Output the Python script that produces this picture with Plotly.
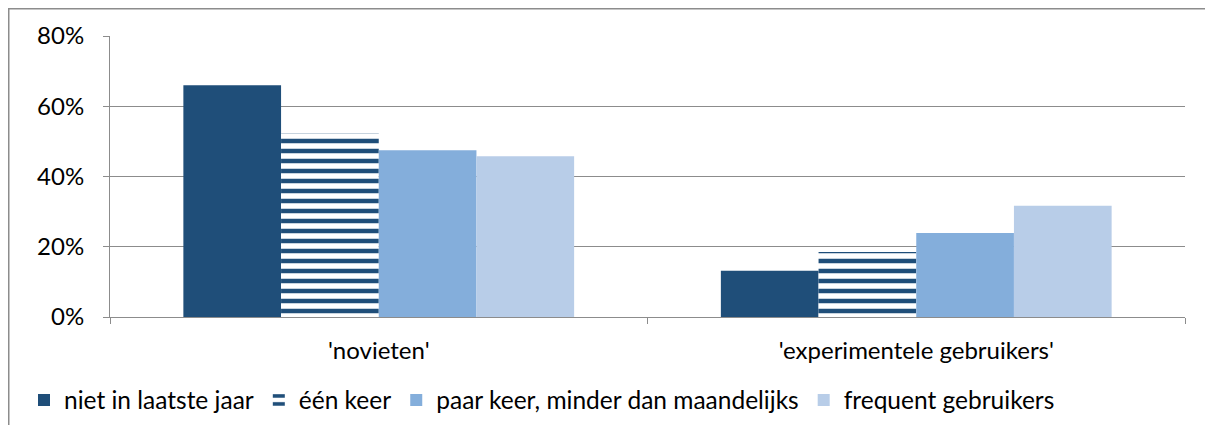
import plotly.graph_objects as go

categories = ["'novieten'", "'experimentele gebruikers'"]
series_names = ["niet in laatste jaar", "één keer", "paar keer, minder dan maandelijks", "frequent gebruikers"]
niet_laatste_jaar = [0.660, 0.132]
een_keer = [0.524, 0.185]
paar_keer = [0.475, 0.239]
frequent = [0.458, 0.317]
y_ticks = [0, 0.2, 0.4, 0.6, 0.8]
y_tick_labels = ["0%", "20%", "40%", "60%", "80%"]

dark = "#1F4E79"
mid = "#84AEDB"
light = "#B8CDE8"
grey = "#8C8C8C"
font = "Lato"

fig = go.Figure()

fig.add_trace(go.Bar(x=categories, y=niet_laatste_jaar, name=series_names[0],
                     marker=dict(color=dark, line=dict(width=0))))
fig.add_trace(go.Bar(x=categories, y=een_keer, name=series_names[1],
                     marker=dict(color="white", line=dict(width=0),
                                 pattern=dict(shape="-", fgcolor=dark, bgcolor="white",
                                              fillmode="replace", size=10, solidity=0.45))))
fig.add_trace(go.Bar(x=categories, y=paar_keer, name=series_names[2],
                     marker=dict(color=mid, line=dict(width=0))))
fig.add_trace(go.Bar(x=categories, y=frequent, name=series_names[3],
                     marker=dict(color=light, line=dict(width=0))))

# page body adds an 8px offset, so work in figure coordinates
off = 8
plot_l, plot_r, plot_t, plot_b = 110 - off, 1185 - off, 36 - off, 318 - off
W, H = 1213, 425
pw, ph = plot_r - plot_l, plot_b - plot_t

# outer chart border (Excel style), runs off right/bottom edge
fig.add_shape(type="rect", xref="paper", yref="paper",
              x0=(0.75 - plot_l) / pw, x1=(W + 20 - plot_l) / pw,
              y0=(plot_b - (H + 20)) / ph, y1=(plot_b - 0.75) / ph,
              line=dict(color=grey, width=1.5), layer="below")

fig.update_layout(
    width=W, height=H,
    margin=dict(l=plot_l, r=W - plot_r, t=plot_t, b=H - plot_b),
    paper_bgcolor="white", plot_bgcolor="white",
    barmode="group", bargap=0.273, bargroupgap=0,
    font=dict(family=font, size=24, color="#000000"),
    legend=dict(orientation="h", x=(16 - plot_l) / pw, xanchor="left",
                y=(plot_b - (400 - off)) / ph, yanchor="middle",
                font=dict(size=24.5), itemwidth=30, tracegroupgap=0),
    xaxis=dict(showline=True, linecolor=grey, linewidth=1, ticks="outside",
               tickson="boundaries", ticklen=6, tickcolor=grey,
               showgrid=False, ticklabelstandoff=12),
    yaxis=dict(range=[0, 0.8], tickvals=y_ticks, ticktext=y_tick_labels,
               showline=True, linecolor=grey, linewidth=1, ticks="outside",
               ticklen=6, tickcolor=grey, showgrid=True, gridcolor=grey,
               gridwidth=1, zeroline=False, ticklabelstandoff=14),
)

fig.write_html("out.html")
